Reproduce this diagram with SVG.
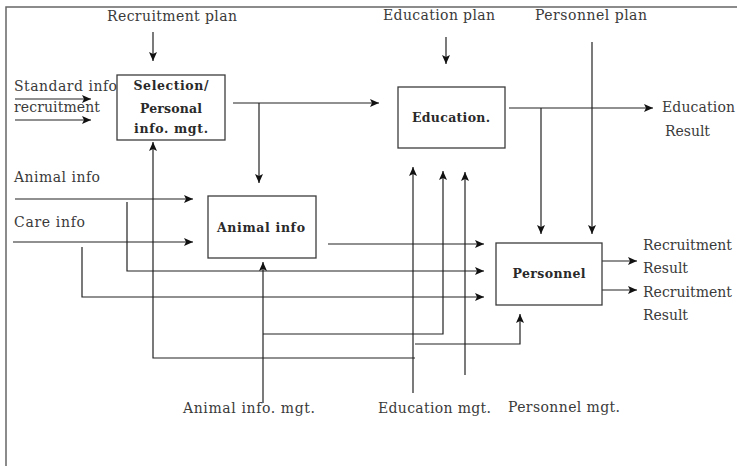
<svg xmlns="http://www.w3.org/2000/svg" width="737" height="466" viewBox="0 0 737 466">
<style>
text{font-family:"DejaVu Serif","Liberation Serif",serif;font-size:14px;fill:#3a3a3a;}
.b{font-weight:bold;font-size:12.5px;fill:#2a2a2a;}
.box{fill:#fff;stroke:#3c3c3c;stroke-width:1.3;}
.c{fill:none;stroke:#222;stroke-width:1.2;}
.a{marker-end:url(#ah);}
.frame{fill:none;stroke:#666;stroke-width:1.5;}
</style>
<defs>
<marker id="ah" markerUnits="userSpaceOnUse" markerWidth="10" markerHeight="8" refX="9" refY="4" orient="auto">
<path d="M0,0 L9,4 L0,8 L2,4 Z" fill="#111"/>
</marker>
</defs>
<rect width="737" height="466" fill="#fff"/>
<path class="frame" d="M6,466 V7 H737"/>
<g id="connectors">
<path class="c a" d="M153,32 V61"/>
<path class="c a" d="M15,99 H91"/>
<path class="c a" d="M15,120 H91"/>
<path class="c a" d="M233,103 H379"/>
<path class="c a" d="M259,103 V183"/>
<path class="c a" d="M446,37 V64"/>
<path class="c a" d="M592,42 V234"/>
<path class="c a" d="M509,108 H653"/>
<path class="c a" d="M541,108 V234"/>
<path class="c a" d="M15,199 H193"/>
<path class="c a" d="M13,242 H193"/>
<path class="c a" d="M127,202 V271 H484"/>
<path class="c a" d="M82,247 V297 H484"/>
<path class="c a" d="M328,244 H484"/>
<path class="c a" d="M263,403 V262"/>
<path class="c a" d="M263,334 H443 V171"/>
<path class="c a" d="M413,393 V167"/>
<path class="c a" d="M415,358 H153 V142"/>
<path class="c a" d="M415,344 H520 V314"/>
<path class="c a" d="M465,375 V172"/>
<path class="c a" d="M602,261 H637"/>
<path class="c a" d="M602,290 H637"/>
</g>
<g id="selection">
<rect class="box" x="117" y="75" width="108" height="65"/>
<text class="b" x="171" y="90" text-anchor="middle" textLength="75">Selection/</text>
<text class="b" x="171" y="113" text-anchor="middle" textLength="62">Personal</text>
<text class="b" x="171" y="133" text-anchor="middle" textLength="74">info. mgt.</text>
</g>
<g id="education">
<rect class="box" x="398" y="87" width="107" height="61"/>
<text class="b" x="451" y="122" text-anchor="middle" textLength="78">Education.</text>
</g>
<g id="animal">
<rect class="box" x="208" y="196" width="108" height="62"/>
<text class="b" x="261" y="232" text-anchor="middle" textLength="88">Animal info</text>
</g>
<g id="personnel">
<rect class="box" x="496" y="243" width="106" height="62"/>
<text class="b" x="549" y="278" text-anchor="middle" textLength="73">Personnel</text>
</g>
<g id="labels">
<text x="107" y="21" textLength="130">Recruitment plan</text>
<text x="383" y="20" textLength="112">Education plan</text>
<text x="535" y="20" textLength="112">Personnel plan</text>
<text x="14" y="91" textLength="103">Standard info</text>
<text x="14" y="112" textLength="86">recruitment</text>
<text x="662" y="112" textLength="73">Education</text>
<text x="665" y="136" textLength="45">Result</text>
<text x="14" y="182" textLength="86">Animal info</text>
<text x="14" y="227" textLength="71">Care info</text>
<text x="643" y="250" textLength="89">Recruitment</text>
<text x="643" y="273" textLength="45">Result</text>
<text x="643" y="297" textLength="89">Recruitment</text>
<text x="643" y="320" textLength="45">Result</text>
<text x="183" y="413" textLength="132">Animal info. mgt.</text>
<text x="378" y="413" textLength="113">Education mgt.</text>
<text x="508" y="412" textLength="112">Personnel mgt.</text>
</g>
</svg>
